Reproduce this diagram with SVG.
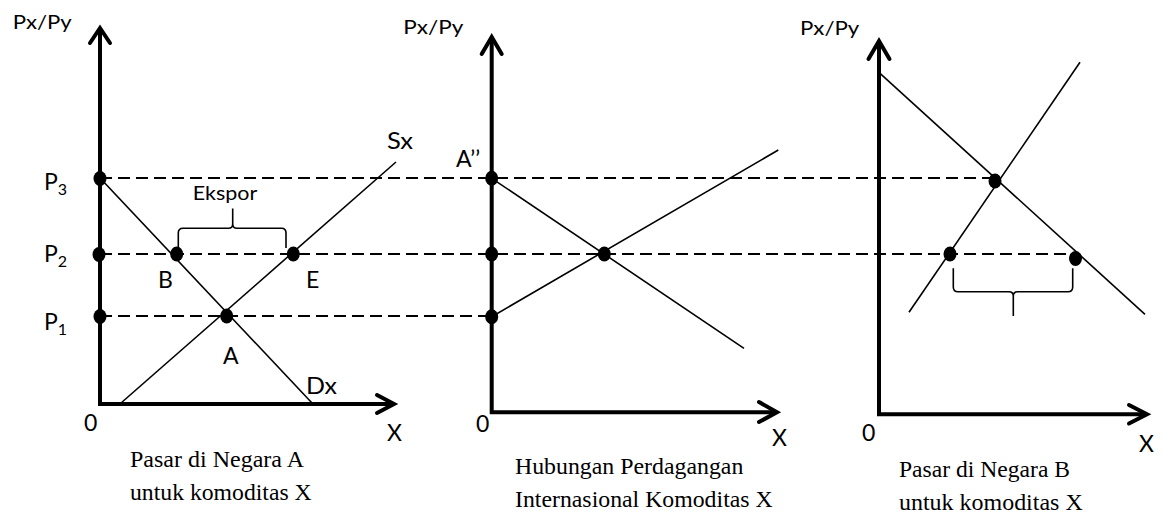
<svg xmlns="http://www.w3.org/2000/svg" width="1165" height="514" viewBox="0 0 1165 514">
<style>
.ax{fill:none;stroke:#000;stroke-width:4;stroke-linecap:butt}
.ar{fill:none;stroke:#000;stroke-width:4;stroke-linecap:round;stroke-linejoin:miter}
.ln{fill:none;stroke:#000;stroke-width:1.6}
.ds{fill:none;stroke:#000;stroke-width:2;stroke-dasharray:12 6}
.br{fill:none;stroke:#000;stroke-width:1.6}
.lb{font-family:Lato,"Open Sans",sans-serif;font-size:23px;fill:#000}
.py{font-family:Lato,"Open Sans",sans-serif;font-size:20px;fill:#000}
.sb{font-family:Lato,"Open Sans",sans-serif;font-size:16px;fill:#000}
.cp{font-family:"Liberation Serif","Times New Roman",serif;font-size:23px;fill:#000}
</style>
<rect width="1165" height="514" fill="#fff"/>
<g id="guides">
<line class="ds" x1="100" y1="178" x2="995" y2="178"/>
<line class="ds" x1="100" y1="254" x2="1075" y2="254"/>
<line class="ds" x1="100" y1="316" x2="492" y2="316"/>
</g>
<g id="panel-a">
<path class="ax" d="M100,29 V404 H393"/>
<path class="ar" d="M90,43 L100,28 L110,43"/>
<path class="ar" d="M377,395 L394,404 L377,413"/>
<line class="ln" x1="100" y1="178" x2="312" y2="403"/>
<line class="ln" x1="121" y1="403" x2="396" y2="162"/>
<path class="br" d="M178.3,247 V233 Q178.3,228.3 183,228.3 H228.5 Q232.7,228.3 232.7,224 V208.5 V224 Q232.7,228.3 237,228.3 H281.5 Q286,228.3 286,233 V248"/>
<ellipse cx="100" cy="178.5" rx="6.5" ry="7.5"/>
<ellipse cx="99" cy="254.5" rx="6.5" ry="7.5"/>
<ellipse cx="100" cy="316.5" rx="6.5" ry="7.5"/>
<ellipse cx="176.7" cy="254" rx="6.5" ry="7.5"/>
<ellipse cx="293.3" cy="254" rx="6.5" ry="7.5"/>
<ellipse cx="226.7" cy="316" rx="6.5" ry="7.5"/>
<text class="py" x="12.7" y="29" textLength="59" lengthAdjust="spacingAndGlyphs">Px/Py</text>
<text class="lb" x="44" y="190">P<tspan class="sb" dy="5">3</tspan></text>
<text class="lb" x="44" y="262">P<tspan class="sb" dy="5">2</tspan></text>
<text class="lb" x="44" y="329.5">P<tspan class="sb" dy="5">1</tspan></text>
<text class="lb" x="387" y="148.5" textLength="26" lengthAdjust="spacingAndGlyphs">Sx</text>
<text class="py" x="192.7" y="200" textLength="64.6" lengthAdjust="spacingAndGlyphs">Ekspor</text>
<text class="lb" x="158" y="288">B</text>
<text class="lb" x="306" y="288">E</text>
<text class="lb" x="223" y="364">A</text>
<text class="lb" x="306" y="393.5" textLength="31" lengthAdjust="spacingAndGlyphs">Dx</text>
<text class="lb" x="84" y="430.5">0</text>
<text class="lb" x="387" y="441">X</text>
<text class="cp" x="130" y="467" textLength="174" lengthAdjust="spacingAndGlyphs">Pasar di Negara A</text>
<text class="cp" x="130" y="500" textLength="181.7" lengthAdjust="spacingAndGlyphs">untuk komoditas X</text>
</g>
<g id="panel-trade">
<path class="ax" d="M491.7,38 V412.3 H776"/>
<path class="ar" d="M481.7,54 L491.7,37 L501.7,54"/>
<path class="ar" d="M759,402 L777,412.3 L759,422"/>
<line class="ln" x1="491.7" y1="178.3" x2="744" y2="348.3"/>
<line class="ln" x1="491.7" y1="316.7" x2="778.3" y2="150"/>
<ellipse cx="491.7" cy="178.3" rx="6.5" ry="7.5"/>
<ellipse cx="491.7" cy="254" rx="6.5" ry="7.5"/>
<ellipse cx="491.7" cy="316.7" rx="6.5" ry="7.5"/>
<ellipse cx="604.3" cy="254" rx="6.5" ry="7.5"/>
<text class="py" x="403.3" y="33.5" textLength="60" lengthAdjust="spacingAndGlyphs">Px/Py</text>
<text class="lb" x="456" y="167">A’’</text>
<text class="lb" x="476" y="432">0</text>
<text class="lb" x="772" y="445.5">X</text>
<text class="cp" x="515" y="474" textLength="228.3" lengthAdjust="spacingAndGlyphs">Hubungan Perdagangan</text>
<text class="cp" x="515" y="506.7" textLength="257.7" lengthAdjust="spacingAndGlyphs">Internasional Komoditas X</text>
</g>
<g id="panel-b">
<path class="ax" d="M879,42 V414.3 H1146"/>
<path class="ar" d="M868.5,59 L879,41 L889.5,59"/>
<path class="ar" d="M1129,405 L1147,414.3 L1129,423.5"/>
<line class="ln" x1="880" y1="73.3" x2="1145" y2="314.3"/>
<line class="ln" x1="909" y1="312.3" x2="1080" y2="62.3"/>
<path class="br" d="M953.3,268.3 V287 Q953.3,291.7 958,291.7 H1009 Q1013.3,291.7 1013.3,296 V316 V296 Q1013.3,291.7 1017.5,291.7 H1068 Q1072.7,291.7 1072.7,287 V268.3"/>
<ellipse cx="995" cy="181" rx="6.5" ry="7.5"/>
<ellipse cx="950" cy="254" rx="6.5" ry="7.5"/>
<ellipse cx="1075.5" cy="258.5" rx="6.5" ry="7.5"/>
<text class="py" x="800" y="35" textLength="59.3" lengthAdjust="spacingAndGlyphs">Px/Py</text>
<text class="lb" x="862" y="440.5">0</text>
<text class="lb" x="1139" y="452">X</text>
<text class="cp" x="899" y="477" textLength="171" lengthAdjust="spacingAndGlyphs">Pasar di Negara B</text>
<text class="cp" x="899" y="510" textLength="183.7" lengthAdjust="spacingAndGlyphs">untuk komoditas X</text>
</g>
</svg>
